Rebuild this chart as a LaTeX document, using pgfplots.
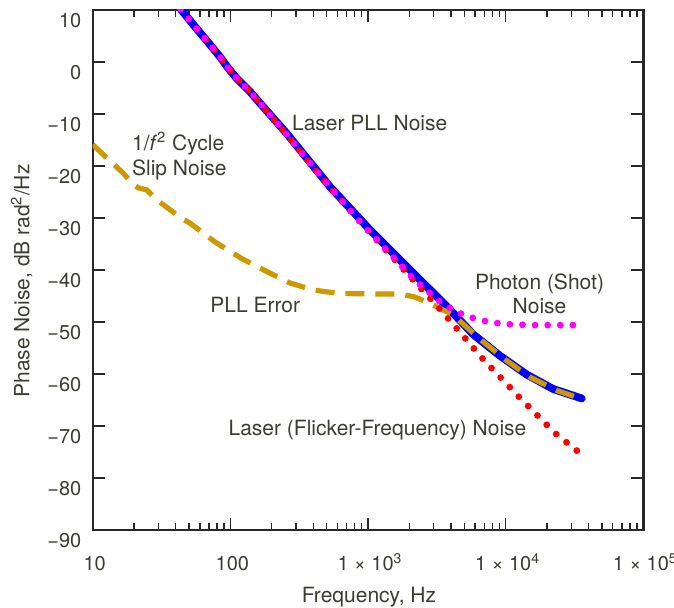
\documentclass[border=0pt]{standalone}
\usepackage{pgfplots}
\pgfplotsset{compat=1.18}
\usepackage{fontspec}
\setmainfont{TeX Gyre Heros}
\definecolor{txt}{RGB}{60,60,50}
\definecolor{pllgold}{RGB}{204,153,0}
\definecolor{framec}{RGB}{40,40,40}
\definecolor{shotmag}{RGB}{255,0,255}
\definecolor{flickred}{RGB}{255,0,0}
\definecolor{pllblue}{RGB}{0,0,255}
\tikzset{lbl/.style={font=\fontsize{10.5}{12.6}\selectfont, text=txt, inner sep=0pt}}

\begin{document}
\begin{tikzpicture}
\begin{axis}[
  scale only axis, width=275.3pt, height=260pt,
  xmode=log, xmin=10, xmax=100000, ymin=-90, ymax=10,
  axis line style={framec, line width=1.2pt},
  xtick={10,100,1000,10000,100000},
  xticklabels={10,100,1 × 10\textsuperscript{3},1 × 10\textsuperscript{4},1 × 10\textsuperscript{5}},
  minor xtick={20,30,40,50,60,70,80,90,200,300,400,500,600,700,800,900,
    2000,3000,4000,5000,6000,7000,8000,9000,20000,30000,40000,50000,60000,70000,80000,90000},
  ytick={-90,-80,-70,-60,-50,-40,-30,-20,-10,0,10},
  yticklabels={−90,−80,−70,−60,−50,−40,−30,−20,−10,0,10},
  major tick length=6pt, minor tick length=3.3pt,
  every tick/.style={framec, line width=0.7pt},
  tick label style={font=\fontsize{10}{12}\selectfont, text=txt},
  xticklabel style={anchor=base, inner sep=0pt, yshift=-20.5pt, xshift=1pt},
  yticklabel style={anchor=base east, inner sep=0pt, xshift=-5.5pt, yshift=-8.85pt},
  label style={font=\fontsize{10.5}{12.6}\selectfont, text=txt},
  xlabel={Frequency, Hz},
  xlabel style={at={(axis description cs:0.5018,-0.1385)}, anchor=base},
  ylabel={Phase Noise, dB rad\textsuperscript{2}/Hz},
  ylabel style={at={(axis description cs:-0.1151,0.4788)}, anchor=base},
]

% total laser PLL noise
\addplot[pllblue, line width=3.9pt, line join=round, line cap=round] coordinates {
  (43.5,10.2) (55.3,6.8) (63.6,4.9) (84.1,1.0) (96.6,-1.2) (111,-3.1)
  (139,-5.7) (164,-7.9) (256,-13.7) (530,-24.0) (1035,-32.3) (2020,-40.0)
  (3740,-47.0) (5820,-52.4) (9100,-56.5) (14200,-60.1) (22200,-62.9) (35700,-64.7)
};

% PLL error
\addplot[pllgold, line width=2.6pt, dash pattern=on 9.5pt off 5.5pt] coordinates {
  (10,-15.9) (16.7,-21.4) (19.7,-23.6) (21.5,-24.2) (24.7,-24.6) (29.2,-26.5)
  (44.4,-30.1) (51,-31.0) (77.3,-34.6) (121,-37.8) (184,-40.3) (271,-42.5)
  (401,-43.85) (609,-44.5) (1004,-44.6) (1660,-44.6) (2130,-45.1) (2670,-46.1)
  (3520,-47.7) (4100,-48.5) (6510,-53.3) (9890,-57.2) (15000,-60.6) (23700,-63.2)
  (35700,-64.8)
};

% laser flicker-frequency noise
\addplot[flickred, line width=3.4pt, line cap=round, dash pattern=on 0pt off 6.6pt] coordinates {
  (43.5,10.2) (55.3,6.8) (63.6,4.9) (84.1,1.0) (96.6,-1.2) (111,-3.1)
  (139,-5.7) (164,-7.9) (256,-13.9) (448,-21.9) (790,-29.4) (1400,-36.6)
  (2550,-44.2) (3400,-47.8) (3900,-49.6) (6890,-57.2) (12500,-64.4)
  (22900,-71.4) (35000,-75.3)
};

% laser noise plus photon (shot) noise
\addplot[shotmag, line width=3.4pt, line cap=round, dash pattern=on 0pt off 6.3pt] coordinates {
  (43.5,10.2) (55.3,6.8) (63.6,4.9) (84.1,1.0) (96.6,-1.2) (111,-3.1)
  (139,-5.7) (164,-7.9) (256,-13.9) (448,-21.8) (916,-31.3) (2200,-42.0)
  (3300,-46.0) (4290,-47.9) (5260,-48.9) (6510,-49.6) (8000,-50.1)
  (9890,-50.4) (15200,-50.6) (38000,-50.6)
};

\node[lbl, anchor=base west] at (axis cs:279,-13.08) {Laser PLL Noise};
\node[lbl, anchor=base west] at (axis cs:19.2,-17.06) {1/\textit{f}\textsuperscript{2} Cycle};
\node[lbl, anchor=base west] at (axis cs:19.2,-21.92) {Slip Noise};
\node[lbl, anchor=base west] at (axis cs:71.1,-48.08) {PLL Error};
\node[lbl, anchor=base] at (axis cs:17620,-43.71) {Photon (Shot)};
\node[lbl, anchor=base] at (axis cs:17620,-48.33) {Noise};
\node[lbl, anchor=base] at (axis cs:1172,-71.92) {Laser (Flicker-Frequency) Noise};
\end{axis}
\pgfresetboundingbox
\path[use as bounding box] ([shift={(-46.35pt,-39pt)}]current axis.south west)
  rectangle ([shift={(15.35pt,5pt)}]current axis.north east);
\end{tikzpicture}
\end{document}
